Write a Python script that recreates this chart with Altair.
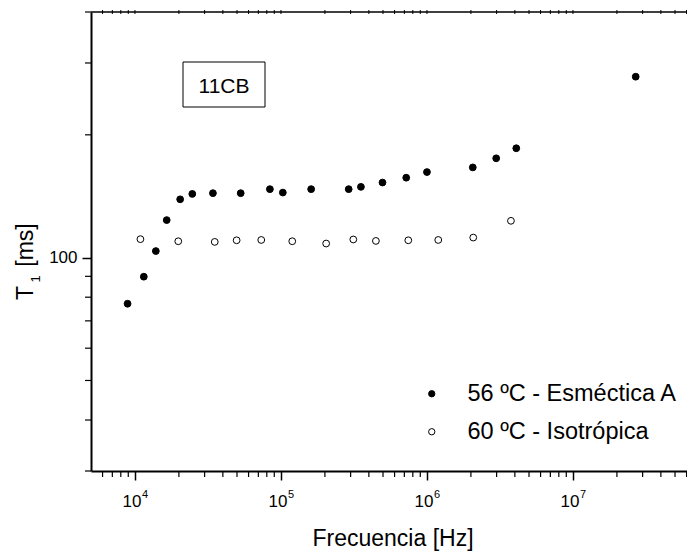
import altair as alt
import pandas as pd

FONT = "Liberation Sans"

s1 = "56 ºC - Esméctica A"
s2 = "60 ºC - Isotrópica"

freq_sm = [8.9e3, 1.15e4, 1.39e4, 1.65e4, 2.04e4, 2.47e4, 3.42e4, 5.3e4, 8.4e4, 1.03e5,
           1.61e5, 2.91e5, 3.53e5, 4.96e5, 7.21e5, 1.0e6, 2.06e6, 2.98e6, 4.09e6, 2.69e7]
t1_sm = [77.1, 89.8, 103.8, 123.6, 139.0, 143.3, 143.9, 143.9, 147.2, 144.4,
         147.2, 147.2, 149.1, 152.8, 157.0, 162.1, 166.4, 175.2, 185.4, 277.6]

freq_iso = [1.09e4, 1.98e4, 3.52e4, 4.97e4, 7.33e4, 1.195e5, 2.04e5, 3.13e5, 4.47e5,
            7.45e5, 1.195e6, 2.075e6, 3.76e6]
t1_iso = [111.0, 109.7, 109.3, 110.3, 110.5, 109.7, 108.3, 110.8, 109.9,
          110.3, 110.5, 112.0, 123.1]

x_major = [1e4, 1e5, 1e6, 1e7]
x_exp = ["4", "5", "6", "7"]
x_minor = [m * 10 ** e for e in range(3, 8) for m in range(2, 10) if 5000 < m * 10 ** e <= 6e7]
y_major = [100]
y_minor = [30, 40, 50, 60, 70, 80, 90, 200, 300, 400]

W, H = 596, 459

df = pd.DataFrame({
    "freq": freq_sm + freq_iso,
    "t1": t1_sm + t1_iso,
    "serie": [s1] * len(freq_sm) + [s2] * len(freq_iso),
})

xscale = alt.Scale(type="log", domain=[5000, 6.04e7], nice=False)
yscale = alt.Scale(type="log", domain=[30, 400], nice=False)

xaxis = alt.Axis(values=x_major, tickSize=9, tickWidth=1.5, tickColor="black", labels=False,
                 domainWidth=2, domainColor="black", grid=False, title=None)
yaxis = alt.Axis(values=y_major, tickSize=9, tickWidth=1.5, tickColor="black",
                 labelFontSize=17, labelFont=FONT, labelColor="black", labelPadding=5,
                 domainWidth=2, domainColor="black", grid=False, title=None, format="d")

X = lambda: alt.X("freq:Q", scale=xscale, axis=xaxis)
Y = lambda: alt.Y("t1:Q", scale=yscale, axis=yaxis)

points = alt.Chart(df).mark_point(shape="circle", filled=True, stroke="black",
                                  strokeWidth=1, opacity=1, size=46).encode(
    x=X(),
    y=Y(),
    fill=alt.Fill("serie:N", scale=alt.Scale(domain=[s1, s2], range=["black", "white"]),
                  legend=alt.Legend(title=None, orient="none", legendX=329, legendY=370,
                                    labelFontSize=23.5, labelFont=FONT, labelColor="black",
                                    labelOffset=24, labelLimit=0, rowPadding=13, symbolSize=40,
                                    symbolType="circle", symbolStrokeColor="black",
                                    symbolStrokeWidth=1, padding=0)),
)

xminor_df = pd.DataFrame({"freq": x_minor})
xmajor_df = pd.DataFrame({"freq": x_major, "exp": x_exp})
yminor_df = pd.DataFrame({"t1": y_minor})
xall_df = pd.DataFrame({"freq": x_major + x_minor})

x_minor_ticks = alt.Chart(xminor_df).mark_rule(color="black", strokeWidth=1.2).encode(
    x=X(), y=alt.value(H), y2=alt.value(H + 6))

y_minor_ticks = alt.Chart(yminor_df).mark_rule(color="black", strokeWidth=1.2).encode(
    y=Y(), x=alt.value(0), x2=alt.value(-6))

top_line = alt.Chart(pd.DataFrame({"a": [0]})).mark_rule(color="black", strokeWidth=1.3).encode(
    x=alt.value(0), x2=alt.value(W), y=alt.value(0))

top_ticks = alt.Chart(xall_df).mark_rule(color="black", strokeWidth=1).encode(
    x=X(), y=alt.value(-2), y2=alt.value(2))

base_lbl = alt.Chart(xmajor_df).mark_text(text="10", fontSize=17, font=FONT, color="black",
                                          align="center", baseline="alphabetic", dx=-3).encode(
    x=X(), y=alt.value(495))
exp_lbl = alt.Chart(xmajor_df).mark_text(fontSize=11, font=FONT, color="black",
                                         align="left", baseline="alphabetic", dx=7).encode(
    x=X(), y=alt.value(486), text="exp:N")

xtitle = alt.Chart(pd.DataFrame({"t": ["Frecuencia [Hz]"]})).mark_text(
    fontSize=23, font=FONT, color="black", align="center", baseline="alphabetic").encode(
    x=alt.value(302), y=alt.value(534), text="t:N")

yt_T = alt.Chart(pd.DataFrame({"t": ["T"]})).mark_text(
    fontSize=23, font=FONT, color="black", align="center", baseline="alphabetic", angle=270).encode(
    x=alt.value(-58), y=alt.value(281), text="t:N")
yt_1 = alt.Chart(pd.DataFrame({"t": ["1"]})).mark_text(
    fontSize=13, font=FONT, color="black", align="center", baseline="alphabetic", angle=270).encode(
    x=alt.value(-51), y=alt.value(267), text="t:N")
yt_ms = alt.Chart(pd.DataFrame({"t": ["[ms]"]})).mark_text(
    fontSize=23, font=FONT, color="black", align="center", baseline="alphabetic", angle=270).encode(
    x=alt.value(-58), y=alt.value(233), text="t:N")

box = alt.Chart(pd.DataFrame({"a": [0]})).mark_rect(fill="white", stroke="black", strokeWidth=1).encode(
    x=alt.value(92), x2=alt.value(174), y=alt.value(50), y2=alt.value(95))
box_txt = alt.Chart(pd.DataFrame({"t": ["11CB"]})).mark_text(
    fontSize=21, font=FONT, color="black", align="center", baseline="alphabetic").encode(
    x=alt.value(133), y=alt.value(81), text="t:N")

chart = alt.layer(
    points, top_line, top_ticks, x_minor_ticks, y_minor_ticks, box, box_txt,
    base_lbl, exp_lbl, xtitle, yt_T, yt_1, yt_ms,
).properties(
    width=W, height=H,
    padding={"left": 91, "top": 12, "right": 0, "bottom": 80},
    autosize=alt.AutoSizeParams(type="none"),
).configure_view(stroke=None)

chart.save("out.html", embed_options={"renderer": "svg", "actions": False})
